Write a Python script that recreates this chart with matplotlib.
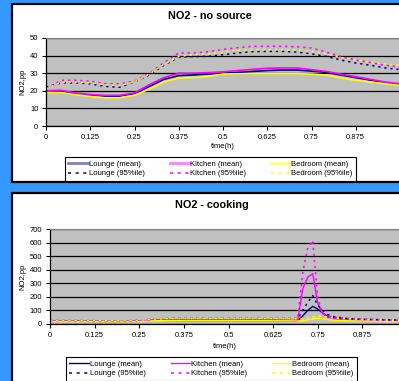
import matplotlib
matplotlib.use('Agg')
import matplotlib.pyplot as plt
from matplotlib.patches import Rectangle
from matplotlib.lines import Line2D

plt.rcParams['font.family'] = ['Liberation Sans', 'DejaVu Sans']

# ---- data: NO2 - no source (hourly, time as fraction of day)
t_ns = [0, 0.042, 0.083, 0.125, 0.167, 0.208, 0.25, 0.292, 0.333, 0.375, 0.417, 0.458,
        0.5, 0.542, 0.583, 0.625, 0.667, 0.708, 0.75, 0.792, 0.833, 0.875, 0.917, 0.958, 1.0]
lounge_mean_ns = [19.5, 19.8, 18.3, 17.4, 17.0, 17.0, 18.3, 22.5, 26.5, 28.6, 29.0, 29.5,
                  30.0, 30.5, 31.0, 31.5, 31.8, 31.8, 31.2, 30.5, 29.0, 27.5, 26.0, 24.5, 23.5]
kitchen_mean_ns = [20.0, 20.3, 18.8, 17.9, 17.4, 17.4, 18.8, 23.5, 27.5, 30.0, 30.0, 30.3,
                   30.8, 31.5, 32.2, 32.8, 33.0, 33.0, 32.0, 31.0, 29.5, 28.0, 26.5, 25.0, 24.0]
bedroom_mean_ns = [19.0, 19.0, 17.8, 16.8, 16.0, 16.0, 17.5, 21.0, 25.0, 27.3, 27.5, 28.2,
                   29.5, 29.7, 29.7, 29.7, 29.7, 29.7, 29.5, 29.0, 27.3, 26.0, 25.0, 24.0, 23.0]
lounge_95_ns = [22.0, 24.5, 24.5, 24.0, 22.5, 22.0, 25.0, 29.0, 34.5, 39.0, 39.5, 39.6,
                40.5, 41.5, 42.2, 42.4, 42.4, 42.0, 41.0, 39.5, 37.5, 35.8, 34.5, 33.0, 32.0]
kitchen_95_ns = [21.0, 26.0, 26.0, 25.5, 24.0, 24.0, 25.5, 30.0, 36.0, 41.5, 41.5, 42.2,
                 43.5, 44.5, 45.3, 45.3, 45.3, 45.0, 44.3, 42.0, 39.5, 37.5, 36.0, 34.5, 33.5]
bedroom_95_ns = [21.0, 25.0, 25.0, 24.5, 23.5, 23.0, 25.0, 29.5, 35.0, 39.5, 40.5, 41.0,
                 42.0, 43.0, 43.4, 43.4, 43.4, 43.2, 42.5, 41.0, 39.0, 37.5, 36.2, 35.3, 34.5]

# ---- data: NO2 - cooking
t_ck = [0, 0.042, 0.083, 0.125, 0.167, 0.208, 0.25, 0.292, 0.333, 0.375, 0.417, 0.458,
        0.5, 0.542, 0.583, 0.625, 0.667, 0.694, 0.708, 0.722, 0.736, 0.75, 0.764, 0.778,
        0.792, 0.833, 0.875, 0.917, 0.958, 1.0]
lounge_mean_ck = [20, 20, 20, 19, 18, 18, 20, 28, 26, 25, 25, 25,
                  25, 25, 25, 25, 24, 22, 60, 100, 130, 110, 80, 55,
                  45, 30, 25, 22, 20, 18]
kitchen_mean_ck = [20, 20, 20, 19, 18, 18, 22, 30, 30, 30, 30, 30,
                   30, 30, 30, 30, 28, 25, 260, 345, 370, 150, 75, 50,
                   42, 32, 28, 25, 22, 20]
bedroom_mean_ck = [18, 18, 18, 17, 16, 16, 18, 24, 25, 24, 24, 24,
                   24, 24, 24, 24, 23, 22, 25, 30, 38, 42, 38, 32,
                   28, 24, 22, 20, 18, 17]
lounge_95_ck = [26, 26, 25, 24, 23, 23, 26, 35, 40, 42, 42, 42,
                42, 42, 42, 42, 42, 40, 100, 160, 210, 140, 100, 70,
                55, 40, 35, 32, 30, 28]
kitchen_95_ck = [27, 27, 26, 25, 24, 24, 28, 38, 42, 44, 44, 44,
                 44, 44, 44, 44, 44, 35, 380, 560, 615, 190, 80, 60,
                 50, 42, 36, 33, 30, 28]
bedroom_95_ck = [27, 27, 26, 25, 24, 24, 27, 36, 40, 42, 42, 42,
                 42, 42, 42, 42, 42, 38, 40, 45, 52, 60, 55, 50,
                 45, 38, 33, 30, 28, 26]

xticks = [0, 0.125, 0.25, 0.375, 0.5, 0.625, 0.75, 0.875]
xticklabels = ['0', '0.125', '0.25', '0.375', '0.5', '0.625', '0.75', '0.875']
labels = ['Lounge (mean)', 'Lounge (95%ile)', 'Kitchen (mean)', 'Kitchen (95%ile)',
          'Bedroom (mean)', 'Bedroom (95%ile)']

W, H = 399, 381
NAVY, MAG, YEL = '#000080', '#ff00ff', '#ffff00'
DOT = (0, (1.5, 2.5))


def fx(px):
    return px / W


def fy(py):
    return 1 - py / H


def panel(top, bottom):
    fig.patches.append(Rectangle((fx(12), fy(bottom)), fx(420) - fx(12), fy(top) - fy(bottom),
                                 transform=fig.transFigure, fc='white', ec='black', lw=1.6,
                                 zorder=-10))


def make_axes(left, right, top, bottom, ymax, ystep):
    ax = fig.add_axes([fx(left), fy(bottom), fx(right) - fx(left), fy(top) - fy(bottom)])
    ax.set_facecolor('#c0c0c0')
    ax.set_xlim(0, 1)
    ax.set_ylim(0, ymax)
    ax.set_xticks(xticks)
    ax.set_xticklabels(xticklabels)
    ax.set_yticks(list(range(0, ymax + 1, ystep)))
    ax.yaxis.grid(True, color='black', lw=0.9)
    ax.set_axisbelow(True)
    ax.tick_params(labelsize=5.5, length=3, width=0.8, pad=2.5, colors='black')
    for s in ['top', 'right']:
        ax.spines[s].set_color('#808080')
        ax.spines[s].set_linewidth(0.8)
    for s in ['left', 'bottom']:
        ax.spines[s].set_color('black')
        ax.spines[s].set_linewidth(0.9)
    return ax


def draw(ax, t, lm, l95, km, k95, bm, b95, lw_mean):
    ax.plot(t, lm, color=NAVY, lw=lw_mean)
    ax.plot(t, km, color=MAG, lw=lw_mean)
    ax.plot(t, bm, color=YEL, lw=lw_mean)
    ax.plot(t, l95, color=NAVY, lw=1.1, ls=DOT)
    ax.plot(t, k95, color=MAG, lw=1.1, ls=DOT)
    ax.plot(t, b95, color=YEL, lw=1.1, ls=DOT)


def legend(x0, x1, top, mean_colors, mean_lw):
    handles = [Line2D([], [], color=mean_colors[0], lw=mean_lw),
               Line2D([], [], color=NAVY, lw=1.1, ls=(0, (2, 3))),
               Line2D([], [], color=mean_colors[1], lw=mean_lw),
               Line2D([], [], color=MAG, lw=1.1, ls=(0, (2, 3))),
               Line2D([], [], color=mean_colors[2], lw=mean_lw),
               Line2D([], [], color=YEL, lw=1.1, ls=(0, (2, 3)))]
    leg = fig.legend(handles, labels, ncol=3, loc='upper left',
                     bbox_to_anchor=(fx(x0), fy(top), fx(x1) - fx(x0), 0), mode='expand',
                     borderaxespad=0, fontsize=5.5, handlelength=2.5, handletextpad=0.2,
                     labelspacing=0.3, borderpad=0.45, fancybox=False, framealpha=1)
    leg.get_frame().set_edgecolor('black')
    leg.get_frame().set_linewidth(0.8)


fig = plt.figure(figsize=(W / 100, H / 100), dpi=100)
fig.patch.set_facecolor('#3399ff')

# top panel
panel(3.5, 181.5)
ax1 = make_axes(46, 400, 38, 126, 50, 10)
draw(ax1, t_ns, lounge_mean_ns, lounge_95_ns, kitchen_mean_ns, kitchen_95_ns,
     bedroom_mean_ns, bedroom_95_ns, 1.2)
fig.text(fx(210), fy(16), 'NO2 - no source', ha='center', va='center', fontsize=7.8, fontweight='bold')
fig.text(fx(23), fy(82), 'NO2,pp', rotation=90, ha='center', va='center', fontsize=5.5)
fig.text(fx(223), fy(147), 'time(h)', ha='center', va='center', fontsize=5.5)
legend(65, 356, 157, ['#8080c8', '#ff80ff', '#ffff80'], 2.0)

# bottom panel
panel(192.5, 395)
ax2 = make_axes(50, 407, 229, 324, 700, 100)
draw(ax2, t_ck, lounge_mean_ck, lounge_95_ck, kitchen_mean_ck, kitchen_95_ck,
     bedroom_mean_ck, bedroom_95_ck, 1.0)
fig.text(fx(212), fy(205), 'NO2 - cooking', ha='center', va='center', fontsize=7.8, fontweight='bold')
fig.text(fx(23), fy(277), 'NO2,pp', rotation=90, ha='center', va='center', fontsize=5.5)
fig.text(fx(225), fy(346), 'time(h)', ha='center', va='center', fontsize=5.5)
legend(66, 357, 357, [NAVY, MAG, YEL], 1.0)

fig.savefig('out.png', dpi=100, facecolor=fig.get_facecolor())
